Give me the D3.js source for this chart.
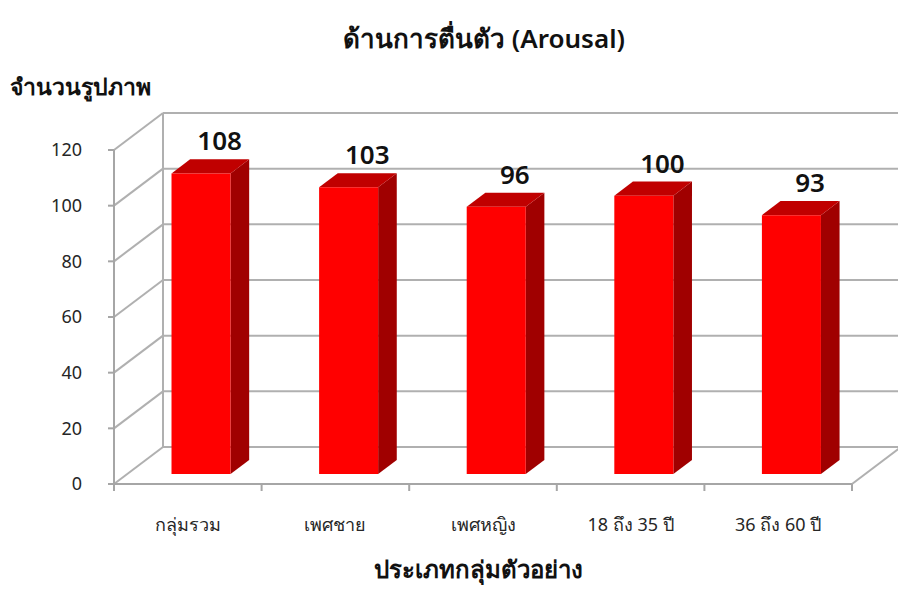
<!DOCTYPE html>
<html>
<head>
<meta charset="utf-8">
<script src="https://cdn.jsdelivr.net/npm/d3@7"></script>
<style>
  html, body { margin: 0; padding: 0; background: #fff; }
  svg { display: block; font-family: "Noto Sans", "DejaVu Sans", sans-serif; }
</style>
</head>
<body>
<svg id="chart" width="898" height="603"></svg>
<script>
// Chart data
const categories = ["กลุ่มรวม", "เพศชาย", "เพศหญิง", "18 ถึง 35 ปี", "36 ถึง 60 ปี"];
const values = [108, 103, 96, 100, 93];
const yTicks = [0, 20, 40, 60, 80, 100, 120];
const chartTitle = "ด้านการตื่นตัว (Arousal)";
const yTitle = "จำนวนรูปภาพ";
const xTitle = "ประเภทกลุ่มตัวอย่าง";

const svg = d3.select("#chart");

// Front plane of the 3D box
const x = d3.scaleBand().domain(categories).range([114, 852]).padding(0);
const y = d3.scaleLinear().domain([0, 120]).range([484, 150]);

// Depth vector of the box (front -> back wall)
const DX = 49, DY = -37;
const proj = (px, py, f) => [px + f * DX, py + f * DY];

const gridColor = "#b0b0b0";
const grid = svg.append("g").attr("fill", "none").attr("stroke", gridColor).attr("stroke-width", 2);

// Back wall gridlines and left-side diagonals
yTicks.forEach(t => {
  const [bx, by] = proj(x.range()[0], y(t), 1);
  const [ex, ey] = proj(x.range()[1], y(t), 1);
  grid.append("line").attr("x1", bx).attr("y1", by).attr("x2", ex + 10).attr("y2", ey);
  grid.append("line").attr("x1", x.range()[0]).attr("y1", y(t)).attr("x2", bx).attr("y2", by);
});
// Back-left vertical edge
{
  const [b0x, b0y] = proj(x.range()[0], y(0), 1);
  const [b1x, b1y] = proj(x.range()[0], y(120), 1);
  grid.append("line").attr("x1", b0x).attr("y1", b0y).attr("x2", b1x).attr("y2", b1y);
}
// Floor right edge
{
  const [fx, fy] = proj(x.range()[1], y(0), 1);
  grid.append("line").attr("x1", x.range()[1]).attr("y1", y(0)).attr("x2", fx).attr("y2", fy);
}

// Front axes
const axisColor = "#a6a6a6";
const ax = svg.append("g").attr("stroke", axisColor).attr("stroke-width", 2);
ax.append("line").attr("x1", x.range()[0]).attr("y1", y(0)).attr("x2", x.range()[0]).attr("y2", y(120));
ax.append("line").attr("x1", x.range()[0]).attr("y1", y(0)).attr("x2", x.range()[1]).attr("y2", y(0));
yTicks.forEach(t => {
  ax.append("line").attr("x1", x.range()[0] - 6).attr("y1", y(t)).attr("x2", x.range()[0]).attr("y2", y(t));
});
const bounds = categories.map(c => x(c)).concat([x.range()[1]]);
bounds.forEach(b => {
  ax.append("line").attr("x1", b).attr("y1", y(0)).attr("x2", b).attr("y2", y(0) + 7);
});

// Y tick labels
svg.append("g").selectAll("text").data(yTicks).join("text")
  .attr("x", 82).attr("y", d => y(d)).attr("dy", "0.35em")
  .attr("text-anchor", "end").attr("font-size", 18).attr("fill", "#262626")
  .text(d => d);

// Bars as 3D prisms
const F1 = 0.27, F2 = 0.65;
const barW = x.bandwidth() * 0.4;
const barOff = (x.bandwidth() - barW) / 2;
const bars = svg.append("g");
categories.forEach((c, i) => {
  const v = values[i];
  const xl = x(c) + barOff, xr = xl + barW;
  const yb = y(0), yt = y(v);
  const p = (px, py, f) => proj(px, py, f).join(",");
  // right side face
  bars.append("polygon")
    .attr("points", [p(xr, yb, F1), p(xr, yb, F2), p(xr, yt, F2), p(xr, yt, F1)].join(" "))
    .attr("fill", "#a00000");
  // top face
  bars.append("polygon")
    .attr("points", [p(xl, yt, F1), p(xl, yt, F2), p(xr, yt, F2), p(xr, yt, F1)].join(" "))
    .attr("fill", "#c00000");
  // front face
  bars.append("polygon")
    .attr("points", [p(xl, yb, F1), p(xr, yb, F1), p(xr, yt, F1), p(xl, yt, F1)].join(" "))
    .attr("fill", "#ff0000");
  // value label above the top face
  const [lx, ly] = proj((xl + xr) / 2, yt, F2);
  bars.append("text")
    .attr("x", lx).attr("y", ly - 9)
    .attr("text-anchor", "middle").attr("font-size", 26).attr("font-weight", 600).attr("fill", "#111")
    .text(v);
});

// Category labels
svg.append("g").selectAll("text").data(categories).join("text")
  .attr("x", d => x(d) + x.bandwidth() / 2).attr("y", 531)
  .attr("text-anchor", "middle").attr("font-size", 18).attr("fill", "#262626")
  .text(d => d);

// Titles
svg.append("text").attr("x", 484).attr("y", 48).attr("text-anchor", "middle")
  .attr("font-size", 26).attr("font-weight", 600).attr("fill", "#111").text(chartTitle);
svg.append("text").attr("x", 10).attr("y", 95).attr("text-anchor", "start")
  .attr("font-size", 23).attr("font-weight", 600).attr("fill", "#111").text(yTitle);
svg.append("text").attr("x", 478).attr("y", 578).attr("text-anchor", "middle")
  .attr("font-size", 24).attr("font-weight", 600).attr("fill", "#111").text(xTitle);
</script>
</body>
</html>
